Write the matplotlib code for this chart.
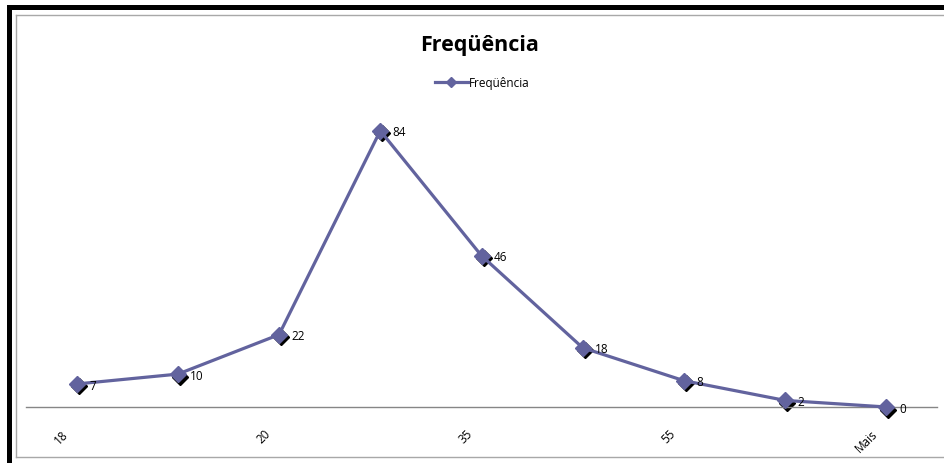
import matplotlib.pyplot as plt
import matplotlib.transforms as mtransforms
from matplotlib.patches import Rectangle
from matplotlib.lines import Line2D

# categories (only every other tick label is shown in the original)
categories = ["18", "", "20", "", "35", "", "55", "", "Mais"]
freq = [7, 10, 22, 84, 46, 18, 8, 2, 0]

line_color = "#62639e"
plt.rcParams["font.family"] = ["Open Sans", "DejaVu Sans"]

fig = plt.figure(figsize=(9.44, 4.63), dpi=100)
W, H = 944, 463

# outer black border + inner grey frame (cropped screenshot look)
fig.patches.append(Rectangle((7 / W, 0), 5 / W, 1 - 5 / H, transform=fig.transFigure,
                             facecolor="black", edgecolor="none"))
fig.patches.append(Rectangle((7 / W, 1 - 10 / H), 1, 5 / H, transform=fig.transFigure,
                             facecolor="black", edgecolor="none"))
fig.add_artist(Line2D([15.5 / W, 15.5 / W], [1 - 14.5 / H, 1 - 457 / H], transform=fig.transFigure,
                      color="#a8a8a8", lw=1))
fig.add_artist(Line2D([15.5 / W, 1], [1 - 14.5 / H, 1 - 14.5 / H], transform=fig.transFigure,
                      color="#a8a8a8", lw=1))
fig.add_artist(Line2D([15.5 / W, 1], [1 - 457 / H, 1 - 457 / H], transform=fig.transFigure,
                      color="#a8a8a8", lw=1))

ax = fig.add_axes([26 / W, 56 / H, 911 / W, 296 / H])
x = list(range(len(freq)))

# marker shadow
shadow = mtransforms.offset_copy(ax.transData, fig=fig, x=2, y=-2.5, units="dots")
ax.plot(x, freq, linestyle="none", marker="D", markersize=8.5, color="black",
        transform=shadow, zorder=2, clip_on=False)
ax.plot(x, freq, color=line_color, linewidth=2.3, marker="D", markersize=8.5,
        markerfacecolor=line_color, markeredgecolor=line_color, label="Freqüência",
        zorder=3, clip_on=False)

for xi, v in zip(x, freq):
    ax.annotate(str(v), (xi, v), xytext=(9, -1.5), textcoords="offset points",
                ha="left", va="center", fontsize=8.5, color="black")

ax.set_xlim(-0.5, len(freq) - 0.5)
ax.set_ylim(0, 90)
ax.set_yticks([])
ax.set_xticks(x)
ax.set_xticklabels(categories, rotation=45, ha="right", fontsize=8.5)
ax.tick_params(axis="x", length=0, pad=15)
shift = mtransforms.ScaledTranslation(-6 / 100, 0, fig.dpi_scale_trans)
for lab in ax.get_xticklabels():
    lab.set_transform(lab.get_transform() + shift)
for s in ["top", "left", "right"]:
    ax.spines[s].set_visible(False)
ax.spines["bottom"].set_color("#868686")
ax.spines["bottom"].set_linewidth(1)

fig.text(480 / W, 1 - 45 / H, "Freqüência", ha="center", va="center", fontsize=15.5, fontweight="bold")
leg = fig.legend(handles=[Line2D([0], [0], color=line_color, lw=2.3, marker="D", markersize=5)],
                 labels=["Freqüência"], loc="center", bbox_to_anchor=(482 / W, 1 - 83 / H),
                 frameon=False, fontsize=8.5, handlelength=2.8, handletextpad=0.05)

fig.savefig("out.png", dpi=100)
